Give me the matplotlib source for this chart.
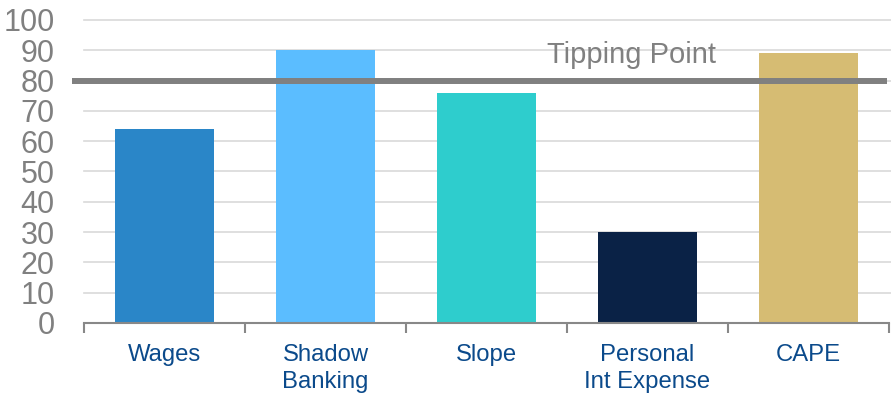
import numpy as np
import matplotlib.pyplot as plt

# Indicator scores vs. the tipping threshold
categories = ['Wages', 'Shadow\nBanking', 'Slope', 'Personal\nInt Expense', 'CAPE']
scores = [64, 90, 76, 30, 89]
bar_colors = ['#2A86C8', '#5BBDFF', '#2ECDCD', '#0A2246', '#D6BC73']
tipping_point = 80
y_ticks = list(range(0, 101, 10))

plt.rcParams['font.family'] = ['Liberation Sans', 'DejaVu Sans']

fig = plt.figure(figsize=(8.91, 3.95), dpi=100)
ax = fig.add_axes([0.0943, 0.1823, 0.9035, 0.7671])

x = np.arange(len(categories))
ax.bar(x, scores, width=0.615, color=bar_colors, zorder=2)

# threshold line, runs slightly past the left edge of the axis
ax.plot([-0.575, 4.49], [tipping_point, tipping_point], color='#808080',
        linewidth=4.3, solid_capstyle='butt', clip_on=False, zorder=3)
ax.text(2.9, 85.8, 'Tipping Point', ha='center', va='baseline',
        fontsize=21, color='#808080', zorder=3)

ax.set_xlim(-0.5, len(categories) - 0.5)
ax.set_ylim(0, 100)

# gridlines
for t in y_ticks[1:]:
    ax.axhline(t, xmin=0, xmax=1.003, color='#D9D9D9', linewidth=1.2,
               zorder=1, clip_on=False)

ax.set_yticks(y_ticks)
ax.set_yticklabels([str(t) for t in y_ticks])
ax.tick_params(axis='y', length=0, pad=21, labelsize=22, labelcolor='#808080')

# category boundaries get tick marks, labels sit at bar centres
ax.set_xticks(np.arange(-0.5, len(categories)))
ax.set_xticklabels([])
ax.tick_params(axis='x', which='major', length=7, width=1.5, color='#888888',
               direction='out')
ax.set_xticks(x, minor=True)
ax.set_xticklabels(categories, minor=True, fontsize=17.2, color='#0B4A8B',
                   linespacing=1.32, va='top')
ax.tick_params(axis='x', which='minor', length=0, pad=15)

for side in ['top', 'right', 'left']:
    ax.spines[side].set_visible(False)
ax.spines['bottom'].set_color('#888888')
ax.spines['bottom'].set_linewidth(1.5)
ax.spines['bottom'].set_zorder(4)

fig.savefig('out.png', dpi=100)
